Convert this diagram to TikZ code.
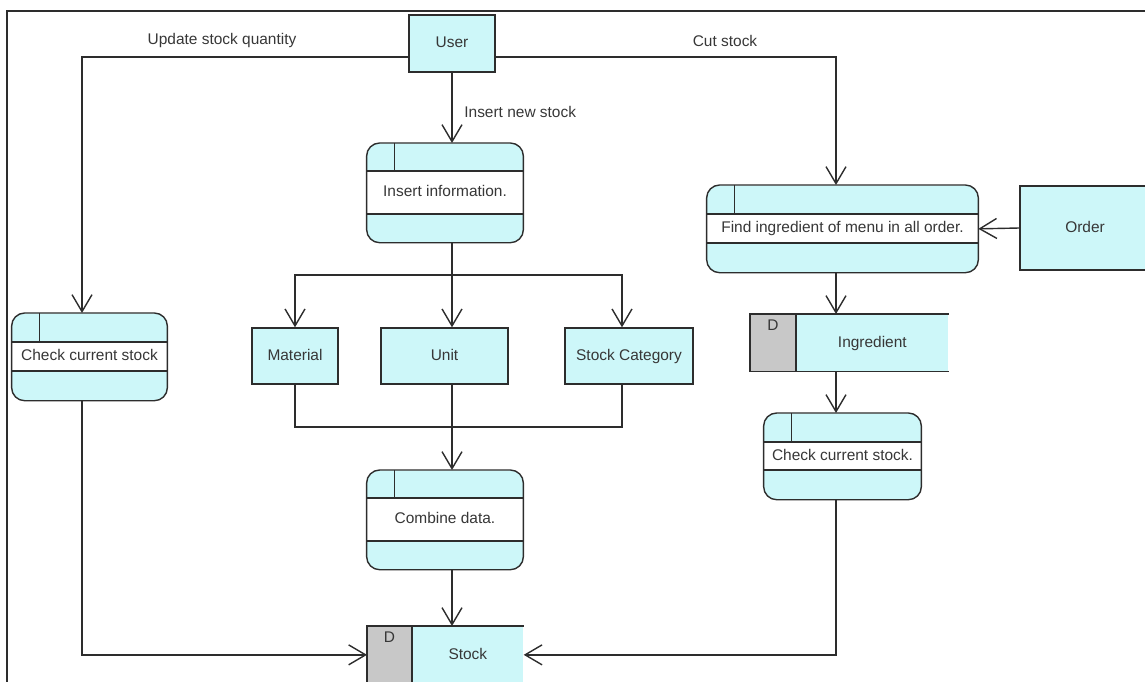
\documentclass[tikz,border=0pt]{standalone}
\usepackage{fontspec}
\setmainfont{Liberation Sans}
\usetikzlibrary{arrows.meta,positioning,calc}
\definecolor{dfdcyan}{RGB}{205,247,249}
\definecolor{dfdgray}{RGB}{200,200,200}
\definecolor{dfdline}{RGB}{45,45,45}
\definecolor{dfdtext}{RGB}{55,55,55}
\newcommand{\px}{0.02cm}

\tikzset{
  lbl/.style={font=\fontsize{8.8}{10}\selectfont, text=dfdtext, inner sep=0pt},
  entity/.style={lbl, draw=dfdline, fill=dfdcyan, line width=0.8pt, text height=0.72em, text depth=0.21em},
  proc/.style={fill=dfdcyan, rounded corners=0.26cm, inner sep=0pt},
  link/.style={draw=dfdline, line width=0.8pt},
  flow/.style={link, -{Straight Barb[length=0.34cm, width=0.4cm, line width=0.8pt]}},
}

% process: name, x, top y, width, strip, band, text
\newcommand{\dfdproc}[7]{
  \node[proc, anchor=north, minimum width={#4*\px}, minimum height={(2*#5+#6)*\px}] (#1) at (#2,#3) {};
  \fill[white] ($(#1.north west)+(0,#5)$) rectangle ($(#1.north east)+(0,#5+#6)$);
  \draw[link] ($(#1.north west)+(0,#5)$) -- ($(#1.north east)+(0,#5)$);
  \draw[link] ($(#1.north west)+(0,#5+#6)$) -- ($(#1.north east)+(0,#5+#6)$);
  \draw[link] ($(#1.north west)+(28,0)$) -- ++(0,#5);
  \draw[link, rounded corners=0.26cm] (#1.north west) rectangle (#1.south east);
  \node[lbl, text height=0.72em, text depth=0.21em] (#1-txt) at ($(#1.north)+(0,#5+#6/2)$) {#7};
}

% data store: name, left x, top y, width, height, id width, text
\newcommand{\dfdstore}[7]{
  \node[fill=dfdcyan, anchor=north west, inner sep=0pt, minimum width={#4*\px}, minimum height={#5*\px}] (#1) at (#2,#3) {};
  \fill[dfdgray] (#1.north west) rectangle ($(#1.south west)+(#6,0)$);
  \draw[link] (#1.north east) -- (#1.north west) -- (#1.south west) -- (#1.south east);
  \draw[link] ($(#1.north west)+(#6,0)$) -- ($(#1.south west)+(#6,0)$);
  \node[lbl, anchor=north] (#1-id) at ($(#1.north west)+(#6/2,6)$) {D};
  \node[lbl, text height=0.72em, text depth=0.21em] (#1-txt) at ($(#1.center)+(#6/2,0)$) {#7};
}

\begin{document}
\begin{tikzpicture}[x=0.02cm, y=-0.02cm]

  \useasboundingbox (0,0) rectangle (1145,682);
  \clip (0,0) rectangle (1145,682);

  % frame
  \draw[dfdline, line width=0.9pt] (1145,11) -- (7,11) -- (7,682);

  % external entities
  \node[entity, minimum width={86*\px}, minimum height={57*\px}] (user) at (452,43.5) {User};
  \node[entity, minimum width={130*\px}, minimum height={84*\px}] (order) at (1085,228) {Order};
  \node[entity, minimum width={86*\px}, minimum height={56*\px}] (mat) at (295,356) {Material};
  \node[entity, minimum width={127*\px}, minimum height={56*\px}] (unit) at (444.5,356) {Unit};
  \node[entity, minimum width={128*\px}, minimum height={56*\px}] (cat) at (629,356) {Stock Category};

  % processes
  \dfdproc{ins}{445}{143}{156}{28}{43}{Insert information.}
  \dfdproc{comb}{445}{470}{156}{28}{43}{Combine data.}
  \dfdproc{find}{842.5}{185}{271}{29}{29}{Find ingredient of menu in all order.}
  \dfdproc{chk}{89.5}{313}{155}{29}{29}{Check current stock}
  \dfdproc{chkb}{842.5}{413}{157}{29}{28}{Check current stock.}

  % data stores
  \dfdstore{ingr}{750}{314}{198}{57}{46}{Ingredient}
  \dfdstore{stock}{367}{626}{156}{57}{45}{Stock}

  % corners of the flows
  \coordinate (updc) at (82,57);
  \coordinate (cutc) at (836,57);
  \coordinate (split) at (452,275);
  \coordinate (join) at (452,427);

  % flows
  \draw[flow] (user.west |- updc) -- (updc) -- (updc |- chk.north);
  \node[lbl] (lupd) at (222,41) {Update stock quantity};
  \draw[flow] (user.east |- cutc) -- (cutc) -- (cutc |- find.north);
  \node[lbl] (lcut) at (725,41) {Cut stock};
  \draw[flow] (user.south) -- (user.south |- ins.north);
  \node[lbl, anchor=west] (lins) at (464,112) {Insert new stock};

  \draw[link] (split |- ins.south) -- (split);
  \draw[flow] (split) -| (mat.north);
  \draw[flow] (split) -- (split |- unit.north);
  \draw[flow] (split) -| ([xshift=-0.14cm]cat.north);
  \draw[link] (mat.south) |- (join) -| ([xshift=-0.14cm]cat.south);
  \draw[flow] (split |- unit.south) -- (split |- comb.north);
  \draw[flow] (split |- comb.south) -- (split |- stock.north);

  \draw[flow] (order.west) -- (find.east);
  \draw[flow] (cutc |- find.south) -- (cutc |- ingr.north);
  \draw[flow] (cutc |- ingr.south) -- (cutc |- chkb.north);
  \draw[flow] (cutc |- chkb.south) |- (stock.east);
  \draw[flow] (updc |- chk.south) |- (stock.west);

\end{tikzpicture}
\end{document}
